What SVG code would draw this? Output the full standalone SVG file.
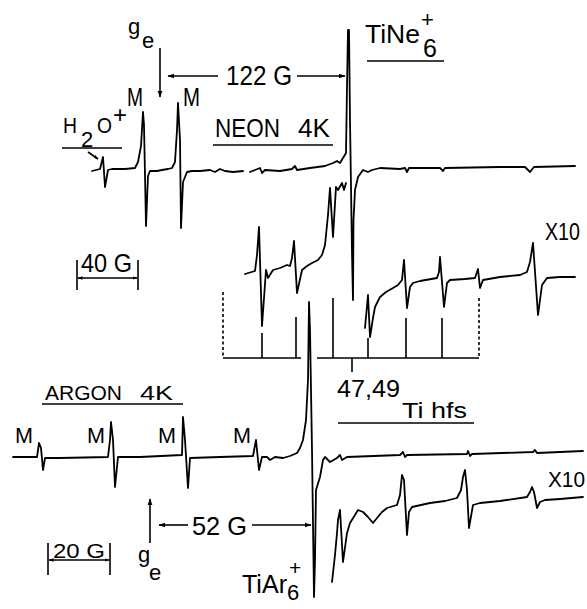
<svg xmlns="http://www.w3.org/2000/svg" width="587" height="609" viewBox="0 0 587 609">
<style>
.t{font-family:"Liberation Sans",Arial,sans-serif;fill:#000;}
.tr{fill:none;stroke:#000;stroke-width:1.8;stroke-linejoin:round;stroke-linecap:round;}
.ln{fill:none;stroke:#000;stroke-width:1.6;}
.dash{fill:none;stroke:#000;stroke-width:1.6;stroke-dasharray:3,2.5;}
</style>
<defs>
<marker id="ah" viewBox="0 0 10 10" refX="9" refY="5" markerWidth="7" markerHeight="7" orient="auto" markerUnits="userSpaceOnUse">
<path d="M0,1.5 L10,5 L0,8.5 Z" fill="#000"/>
</marker>
<marker id="ahs" viewBox="0 0 10 10" refX="9" refY="5" markerWidth="5" markerHeight="5" orient="auto" markerUnits="userSpaceOnUse">
<path d="M0,1.5 L10,5 L0,8.5 Z" fill="#000"/>
</marker>
<marker id="ahs0" viewBox="0 0 10 10" refX="1" refY="5" markerWidth="5" markerHeight="5" orient="auto" markerUnits="userSpaceOnUse">
<path d="M10,1.5 L0,5 L10,8.5 Z" fill="#000"/>
</marker>
</defs>
<rect width="587" height="609" fill="#fff"/>

<g id="neon-spectrum">
<path class="tr" d="M92,171 L100,169 L103,157 L105,187 L108,170 L112,169 L125,169 L135,168 L138,162 L141,146 L143,112 L144,125 L146,226 L148,176 L150,171 L157,171 L162,170 L168,169 L172,168 L175,162 L177,130 L178,103 L180,140 L181,228 L183,182 L187,172 L192,171 L200,171 L210,170 L215,172 L220,169 L225,171 L233,172 L243,171"/>
<path class="tr" d="M250,172 L255,170 L260,168 L262,173 L265,170 L280,171 L292,169 L295,166 L297,170 L310,168 L325,166 L333,163 L337,161 L340,163 L343,158 L346,153 L347,87 L348,30 L349,30 L350,120 L352,253 L353,300 L353.5,220 L355,190 L358,177 L363,170 L368,172 L372,170 L380,168 L400,169 L405,168 L407,172 L409,168 L440,168 L443,171 L445,168 L500,167 L525,167 L530,172 L534,167 L575,166"/>
</g>

<g id="neon-x10">
<path class="tr" d="M245,274 L255,271 L257,255 L259,227 L262,326 L266,270 L268,278 L273,270 L280,268 L287,265 L290,266 L292,258 L294,241 L297,293 L302,270 L307,266 L312,263 L318,260 L322,255 L325,245 L328,215 L330,188 L333,237 L336,187 L338,190 L342,183 L344,190 L346,183"/>
<path class="tr" d="M365,328 L368,295 L370,337 L373,318 L375,307 L380,297 L386,292 L393,288 L398,285 L402,280 L404,260 L407,308 L410,287 L413,283 L420,281 L437,278 L439,272 L440,257 L444,307 L447,283 L450,280 L465,279 L475,278 L478,269 L480,288 L483,280 L500,277 L520,275 L527,272 L530,262 L533,243 L538,315 L542,285 L547,278 L560,277 L575,277"/>
<text class="t" x="545" y="240" font-size="24" textLength="35" lengthAdjust="spacingAndGlyphs">X10</text>
</g>

<g id="stick-diagram">
<path class="ln" d="M223,358 H301 M317,358 H479"/>
<path class="dash" d="M223,292 V358 M479,298 V358"/>
<path class="ln" d="M262,333 V358 M296,317 V358 M333,298 V358 M368,338 V358 M406,318 V358 M442,318 V358 M352,358 V372"/>
<text class="t" x="337" y="397" font-size="24" textLength="63" lengthAdjust="spacingAndGlyphs">47,49</text>
<text class="t" x="402" y="418" font-size="22" textLength="65" lengthAdjust="spacingAndGlyphs">Ti hfs</text>
<path class="ln" d="M338,423 H474"/>
</g>

<g id="neon-labels">
<text class="t" x="128" y="34" font-size="22">g</text>
<text class="t" x="142" y="48" font-size="22">e</text>
<path class="ln" d="M160,48 V97" marker-end="url(#ah)"/>
<path class="ln" d="M218,76 H168" marker-end="url(#ah)"/>
<text class="t" x="226" y="85" font-size="27" textLength="66" lengthAdjust="spacingAndGlyphs">122 G</text>
<path class="ln" d="M297,76 H345" marker-end="url(#ah)"/>
<text class="t" x="127" y="106" font-size="25" textLength="16" lengthAdjust="spacingAndGlyphs">M</text>
<text class="t" x="183" y="106" font-size="25" textLength="17" lengthAdjust="spacingAndGlyphs">M</text>
<text class="t" x="63" y="133" font-size="22" textLength="14" lengthAdjust="spacingAndGlyphs">H</text>
<text class="t" x="81" y="147" font-size="22">2</text>
<text class="t" x="97" y="133" font-size="22" textLength="15" lengthAdjust="spacingAndGlyphs">O</text>
<text class="t" x="113" y="123" font-size="24">+</text>
<path class="ln" d="M62,148 H122"/>
<path class="ln" stroke-width="1.2" d="M88,152 L98,159" marker-end="url(#ahs)"/>
<text class="t" x="215" y="137" font-size="26" textLength="65" lengthAdjust="spacingAndGlyphs">NEON</text>
<text class="t" x="298" y="137" font-size="26" textLength="32" lengthAdjust="spacingAndGlyphs">4K</text>
<path class="ln" d="M213,145 H333"/>
<text class="t" x="365" y="43" font-size="25" textLength="55" lengthAdjust="spacingAndGlyphs">TiNe</text>
<text class="t" x="423" y="57" font-size="25">6</text>
<text class="t" x="421" y="27" font-size="22">+</text>
<path class="ln" d="M367,61 H444"/>
<path class="ln" d="M77,260 V290 M138,260 V290"/>
<path class="ln" stroke-width="1.3" d="M78,278 H137" marker-start="url(#ahs0)" marker-end="url(#ahs)"/>
<text class="t" x="81" y="272" font-size="26" textLength="51" lengthAdjust="spacingAndGlyphs">40 G</text>
</g>

<g id="argon-spectrum">
<path class="tr" d="M13,457 L37,457 L39,443 L41,448 L43,470 L45,458 L60,458 L108,457 L110,440 L111,422 L113,440 L115,487 L118,457 L140,457 L182,455 L183,417 L185,440 L188,488 L190,458 L220,457 L253,456 L256,440 L259,470 L262,457 L267,457 L270,460 L275,457 L283,458 L290,456 L297,453 L300,448 L303,440 L306,420 L308,380 L309,302 L310,330 L312,450 L314,597 L315,560 L316,490 L320,477 L323,460 L325,457 L330,462 L337,458 L340,455 L342,460 L347,457 L400,455 L403,452 L405,457 L407,455 L467,454 L468,451 L470,456 L472,454 L533,452 L535,450 L537,453 L583,451"/>
</g>

<g id="argon-x10">
<path class="tr" d="M332,582 L335,555 L337,533 L338,520 L340,510 L343,562 L347,533 L350,523 L355,515 L358,510 L363,512 L368,517 L373,523 L377,518 L382,512 L387,508 L397,505 L400,495 L402,475 L404,480 L407,535 L409,512 L412,507 L430,503 L445,501 L457,498 L461,490 L463,477 L465,470 L467,490 L469,528 L473,505 L480,503 L500,501 L527,497 L530,492 L532,487 L534,492 L537,508 L540,502 L545,500 L560,499 L583,497"/>
<text class="t" x="548" y="487" font-size="22" textLength="37" lengthAdjust="spacingAndGlyphs">X10</text>
</g>

<g id="argon-labels">
<text class="t" x="45" y="400" font-size="21" textLength="77" lengthAdjust="spacingAndGlyphs">ARGON</text>
<text class="t" x="140" y="400" font-size="21" textLength="33" lengthAdjust="spacingAndGlyphs">4K</text>
<path class="ln" d="M42,404 H183"/>
<text class="t" x="15" y="443" font-size="22" textLength="18" lengthAdjust="spacingAndGlyphs">M</text>
<text class="t" x="87" y="443" font-size="22" textLength="18" lengthAdjust="spacingAndGlyphs">M</text>
<text class="t" x="158" y="443" font-size="22" textLength="18" lengthAdjust="spacingAndGlyphs">M</text>
<text class="t" x="233" y="443" font-size="22" textLength="18" lengthAdjust="spacingAndGlyphs">M</text>
<path class="ln" d="M150,543 V499" marker-end="url(#ah)"/>
<text class="t" x="138" y="562" font-size="22">g</text>
<text class="t" x="149" y="580" font-size="22">e</text>
<path class="ln" d="M188,525 H159" marker-end="url(#ah)"/>
<text class="t" x="192" y="535" font-size="25" textLength="55" lengthAdjust="spacingAndGlyphs">52 G</text>
<path class="ln" d="M252,525 H311" marker-end="url(#ah)"/>
<path class="ln" d="M48,543 V575 M110,543 V575"/>
<path class="ln" stroke-width="1.3" d="M49,560 H109" marker-start="url(#ahs0)" marker-end="url(#ahs)"/>
<text class="t" x="53" y="558" font-size="21" textLength="52" lengthAdjust="spacingAndGlyphs">20 G</text>
<text class="t" x="242" y="593" font-size="25" textLength="45" lengthAdjust="spacingAndGlyphs">TiAr</text>
<text class="t" x="287" y="600" font-size="22">6</text>
<text class="t" x="289" y="575" font-size="21">+</text>
</g>
</svg>
